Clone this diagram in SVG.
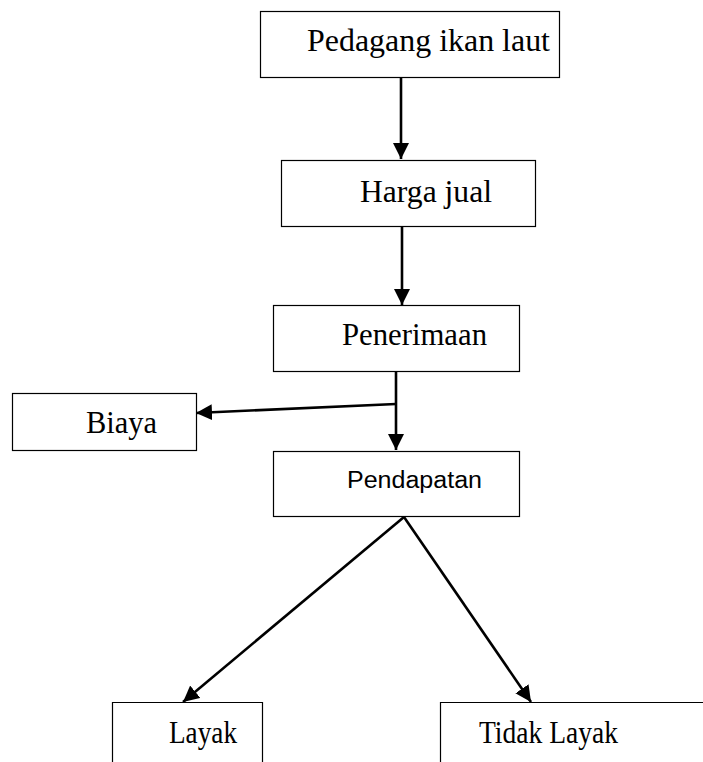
<svg xmlns="http://www.w3.org/2000/svg" width="703" height="762" viewBox="0 0 703 762">
  <defs>
    <marker id="arrow" markerUnits="userSpaceOnUse" markerWidth="16" markerHeight="16" refX="16" refY="8" orient="auto">
      <path d="M0,0 L16,8 L0,16 Z" fill="#000"/>
    </marker>
    <style>
      .box { fill: #fff; stroke: #000; stroke-width: 1.2; }
      .open { fill: none; stroke: #000; stroke-width: 1.2; }
      .serif { font-family: "Liberation Serif", "Times New Roman", serif; font-size: 31px; fill: #000; }
      .sans { font-family: "Liberation Sans", Arial, sans-serif; font-size: 23.5px; fill: #000; }
      .conn { stroke: #000; stroke-width: 2.6; fill: none; marker-end: url(#arrow); }
    </style>
  </defs>
  <rect width="703" height="762" fill="#fff"/>

  <g id="connectors">
    <line class="conn" x1="401" y1="77" x2="401" y2="159"/>
    <line class="conn" x1="402" y1="225" x2="402" y2="305"/>
    <line class="conn" x1="396" y1="371" x2="396" y2="450"/>
    <line class="conn" x1="396" y1="404" x2="196" y2="413"/>
    <line class="conn" x1="404" y1="517" x2="183" y2="702"/>
    <line class="conn" x1="404" y1="517" x2="531" y2="702"/>
  </g>

  <g id="node-pedagang">
    <rect class="box" x="260.5" y="11.5" width="299" height="66"/>
    <text class="serif" x="307" y="51" textLength="243" lengthAdjust="spacingAndGlyphs">Pedagang ikan laut</text>
  </g>

  <g id="node-harga">
    <rect class="box" x="281.5" y="160.5" width="254" height="66"/>
    <text class="serif" x="360" y="202" textLength="132" lengthAdjust="spacingAndGlyphs">Harga jual</text>
  </g>

  <g id="node-penerimaan">
    <rect class="box" x="273.5" y="305.5" width="246" height="66"/>
    <text class="serif" x="342" y="345" textLength="145" lengthAdjust="spacingAndGlyphs">Penerimaan</text>
  </g>

  <g id="node-biaya">
    <rect class="box" x="12.5" y="393.5" width="184" height="57"/>
    <text class="serif" x="86" y="433" textLength="71" lengthAdjust="spacingAndGlyphs">Biaya</text>
  </g>

  <g id="node-pendapatan">
    <rect class="box" x="273.5" y="451.5" width="246" height="65"/>
    <text class="sans" x="347" y="488" textLength="135" lengthAdjust="spacingAndGlyphs">Pendapatan</text>
  </g>

  <g id="node-layak">
    <path class="open" d="M112.5,763 V702.5 H262.5 V763"/>
    <text class="serif" x="169" y="743" textLength="68" lengthAdjust="spacingAndGlyphs">Layak</text>
  </g>

  <g id="node-tidak-layak">
    <path class="open" d="M440.5,763 V702.5 H710"/>
    <text class="serif" x="479" y="743" textLength="139" lengthAdjust="spacingAndGlyphs">Tidak Layak</text>
  </g>
</svg>
